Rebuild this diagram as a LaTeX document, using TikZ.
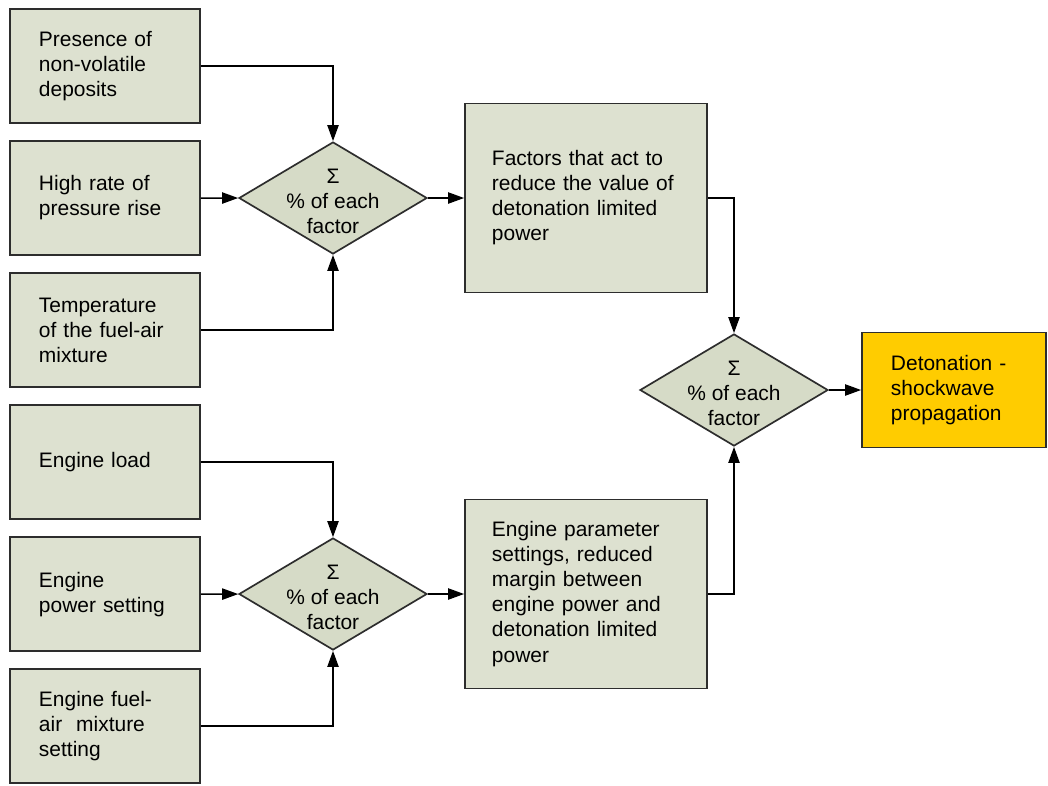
\documentclass[tikz,border=0pt]{standalone}
\usepackage{fontspec}
\setmainfont{Liberation Sans}
\usetikzlibrary{arrows.meta,positioning,shapes.geometric}

\definecolor{boxfill}{RGB}{221,225,208}
\definecolor{sumfill}{RGB}{214,219,199}
\definecolor{resultfill}{RGB}{255,204,0}
\definecolor{edgegray}{RGB}{45,45,45}

% text of the summing diamonds, kept out of the shape size
\newcommand{\sumtext}{\smash{\raisebox{-0.2cm}{\parbox[c]{2.6cm}{\centering Σ\\ \% of each\\ factor}}}}

\begin{document}
\begin{tikzpicture}[
            x=0.025cm, y=-0.025cm,
            node distance=0.408cm,
            font=\fontsize{14.9pt}{17.8pt}\selectfont,
            factor/.style={draw=edgegray, line width=1.2pt, fill=boxfill, minimum width=4.75cm, minimum height=2.85cm, text width=3.3cm, align=left},
            effect/.style={draw=edgegray, line width=1.2pt, fill=boxfill, minimum width=6.05cm, minimum height=4.725cm, text width=4.7cm, align=left},
            sumbox/.style={diamond, aspect=1.7, draw=edgegray, line width=1.2pt, fill=sumfill, minimum width=4.7cm, minimum height=2.8cm, inner sep=0pt},
            result/.style={draw=edgegray, line width=1.2pt, fill=resultfill, minimum width=4.6cm, minimum height=2.875cm, text width=3.15cm, align=left},
            link/.style={-{Triangle[length=4mm,width=2.8mm]}, line width=1.1pt}
        ]
            \fill[white] (0,0) rectangle (1048,785);
            \useasboundingbox (0,0) rectangle (1048,785);

            % upper group of factors
            \node[factor] (deposits) at (105,66) {Presence of\\ non-volatile\\ deposits};
            \node[factor, below=of deposits] (pressure) {High rate of\\ pressure rise};
            \node[factor, below=of pressure] (temperature) {Temperature\\ of the fuel-air\\ mixture};

            % lower group of factors
            \node[factor, below=of temperature] (load) {Engine load};
            \node[factor, below=of load] (power) {Engine\\ power setting};
            \node[factor, below=of power] (mixture) {Engine fuel-\\ air~~mixture\\ setting};

            \node[sumbox] (sumupper) at (333,198) {\sumtext};
            \node[sumbox] (sumlower) at (333,594) {\sumtext};
            \node[sumbox] (sumtotal) at (734,390) {\sumtext};

            \node[effect] (reduce) at (586,198) {Factors that act to\\ reduce the value of\\ detonation limited\\ power};
            \node[effect] (margin) at (586,594) {Engine parameter\\ settings, reduced\\ margin between\\ engine power and\\ detonation limited\\ power};

            \node[result] (detonation) at (954,390) {Detonation -\\ shockwave\\ propagation};

            \draw[link] (deposits) -| (sumupper);
            \draw[link] (pressure) -- (sumupper);
            \draw[link] (temperature) -| (sumupper);
            \draw[link] (load) -| (sumlower);
            \draw[link] (power) -- (sumlower);
            \draw[link] (mixture) -| (sumlower);
            \draw[link] (sumupper) -- (reduce);
            \draw[link] (sumlower) -- (margin);
            \draw[link] (reduce) -| (sumtotal);
            \draw[link] (margin) -| (sumtotal);
            \draw[link] (sumtotal) -- (detonation);
        \end{tikzpicture}
\end{document}
